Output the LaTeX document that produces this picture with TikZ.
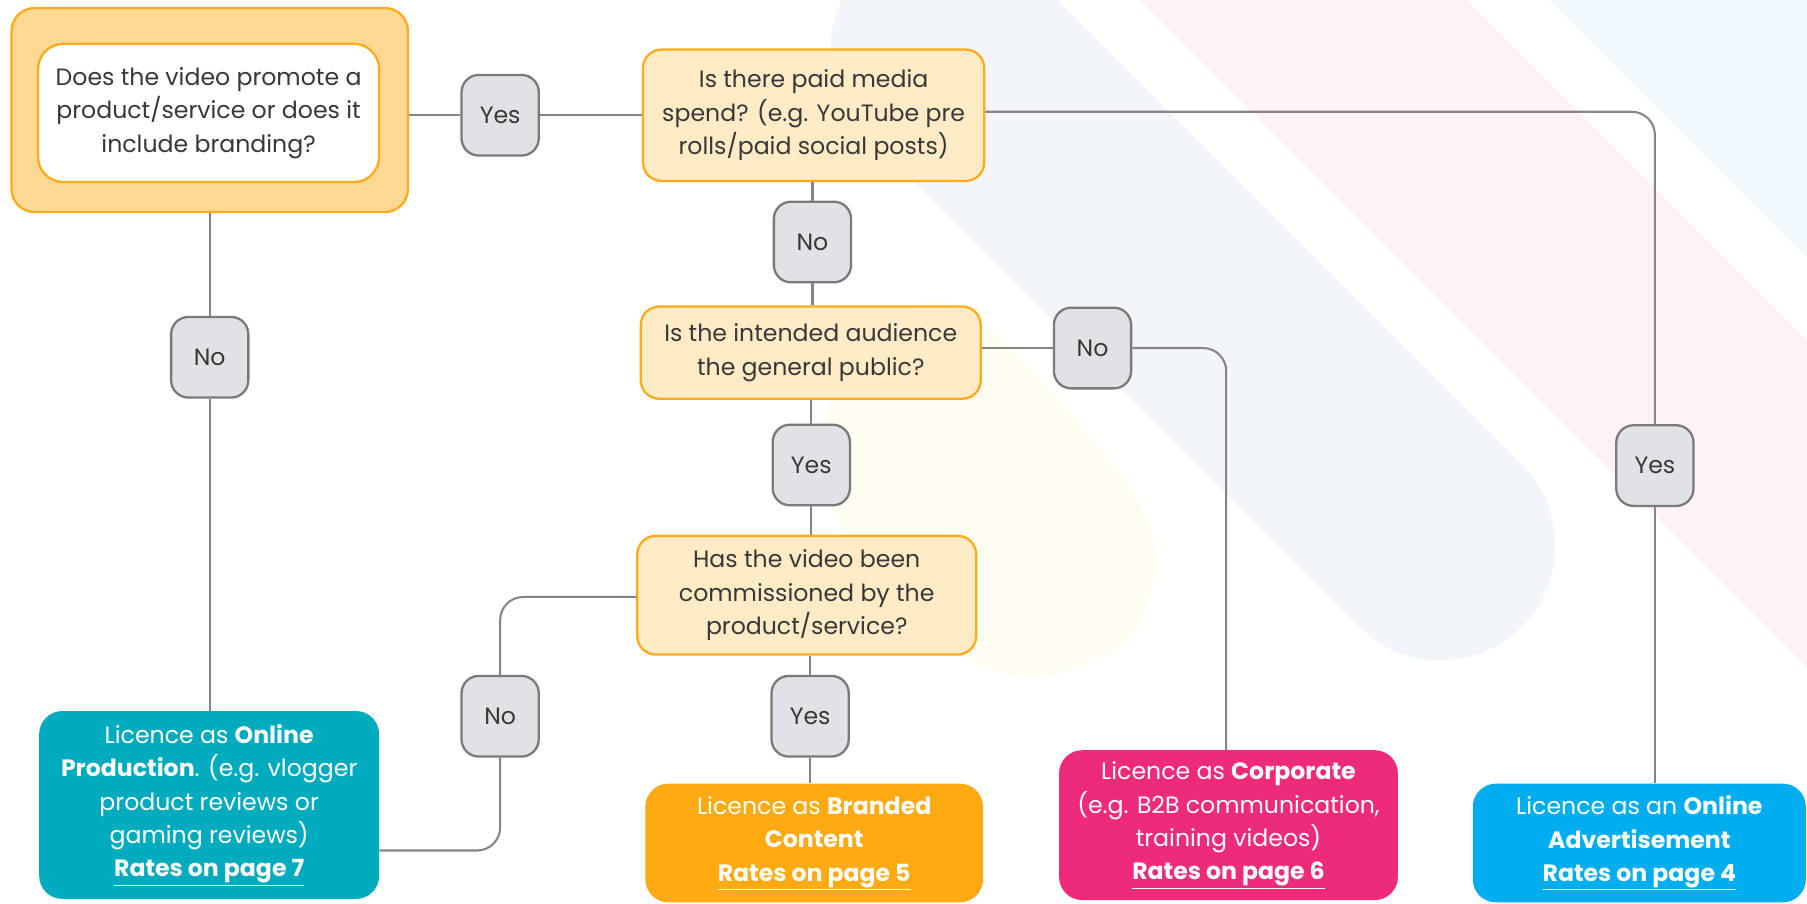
\documentclass[tikz,border=0pt]{standalone}
\usepackage{fontspec}
\setmainfont{Poppins}
\definecolor{qfill}{HTML}{FFEBC6}
\definecolor{qborder}{HTML}{FFAB1A}
\definecolor{outerfill}{HTML}{FFD993}
\definecolor{labfill}{HTML}{E1E2E6}
\definecolor{labborder}{HTML}{7A7A7A}
\definecolor{linec}{HTML}{858585}
\definecolor{txt}{HTML}{383838}
\definecolor{opfill}{HTML}{00ABBD}
\definecolor{brfill}{HTML}{FFAA12}
\definecolor{cofill}{HTML}{EE2A7B}
\definecolor{oafill}{HTML}{00AEEF}
\definecolor{greyband}{HTML}{F2F5F9}
\definecolor{pinkband}{HTML}{FEF2F6}
\definecolor{blueband}{HTML}{F1F9FE}
\definecolor{yellowband}{HTML}{FFFCF1}
\newcommand{\boxfont}{\fontsize{20.5}{29}\selectfont}
\begin{document}
\begin{tikzpicture}[x=1pt,y=-1pt,
  qbox/.style={draw=qborder, fill=qfill, line width=2pt, rounded corners=16pt,
    align=center, text=txt, font=\boxfont, inner sep=0pt},
  labbox/.style={draw=labborder, fill=labfill, line width=2pt, rounded corners=15pt,
    minimum width=67pt, minimum height=70pt, font=\boxfont, text=txt, inner sep=0pt},
  resbox/.style={rounded corners=20pt, text=white, align=center, inner sep=0pt,
    font=\boxfont},
  conn/.style={draw=linec, line width=1.8pt, rounded corners=20pt}]
\useasboundingbox (0,0) rectangle (1568,784);
\begin{scope}
\clip (0,0) rectangle (1568,784);
\fill[pinkband] (989,0) -- (1273,0) -- (1620,347) -- (1620,631) -- cycle;
\fill[blueband] (1345,0) -- (1620,0) -- (1620,275) -- cycle;
\draw[greyband, line width=199pt, line cap=round] (820,43.5) -- (1250,473.5);
\fill[yellowband] plot[smooth cycle] coordinates {(740,285) (820,262) (875,300) (935,365) (988,432) (1003,495) (975,560) (900,588) (835,570) (768,508) (722,440) (716,370)};
\end{scope}
% first question
\node[draw=qborder, fill=outerfill, line width=2pt, rounded corners=20pt,
  minimum width=344pt, minimum height=177pt, inner sep=0pt] (n1) at (182,95.5) {};
\node[draw=qborder, fill=white, line width=2pt, rounded corners=22pt,
  minimum width=296pt, minimum height=120pt, align=center, text=txt, font=\boxfont, inner sep=0pt]
  (n1in) at (181,98) {Does the video promote a\\product/service or does it\\include branding?};
\node[qbox, minimum width=296pt, minimum height=114pt] (q2) at (706,100)
  {Is there paid media\\spend? (e.g. YouTube pre\\rolls/paid social posts)};
\node[qbox, minimum width=295pt, minimum height=80pt] (q3) at (703.5,306)
  {Is the intended audience\\the general public?};
\node[qbox, minimum width=294pt, minimum height=103pt] (q4) at (700,516.5)
  {Has the video been\\commissioned by the\\product/service?};
% labels
\node[labbox] (yes1) at (434,100) {Yes};
\node[labbox] (no2) at (705,210) {No};
\node[labbox] (no3) at (948,302) {No};
\node[labbox] (yes3) at (704,403.5) {Yes};
\node[labbox] (no5) at (434,621.5) {No};
\node[labbox] (yes5) at (703,621.5) {Yes};
\node[labbox] (no1) at (182,310) {No};
\node[labbox] (yes4) at (1436,404) {Yes};
% results
\node[resbox, fill=opfill, minimum width=295pt, minimum height=163pt] (op) at (181.5,698.5)
  {Licence as \textbf{Online}\\\textbf{Production}. (e.g. vlogger\\product reviews or\\gaming reviews)\\\underline{\textbf{Rates on page 7}}};
\node[resbox, fill=brfill, minimum width=293pt, minimum height=103pt] (br) at (706.5,731.5)
  {Licence as \textbf{Branded}\\\textbf{Content}\\\underline{\textbf{Rates on page 5}}};
\node[resbox, fill=cofill, minimum width=294pt, minimum height=130pt] (co) at (1066,716)
  {Licence as \textbf{Corporate}\\(e.g. B2B communication,\\training videos)\\\underline{\textbf{Rates on page 6}}};
\node[resbox, fill=oafill, minimum width=289pt, minimum height=103pt] (oa) at (1422.5,731.5)
  {Licence as an \textbf{Online}\\\textbf{Advertisement}\\\underline{\textbf{Rates on page 4}}};
\coordinate (opin) at ([yshift=-39.5pt]op.east);
% connectors
\draw[conn] (n1.east |- yes1.west) -- (yes1.west);
\draw[conn] (yes1.east) -- (q2.west |- yes1.east);
\draw[conn] ([yshift=3pt]q2.east) -- ([yshift=3pt]q2.east -| yes4.north) -- (yes4.north);
\draw[conn] (yes4.south) -- (yes4.south |- oa.north);
\draw[conn] (q2.south -| no2.north) -- (no2.north);
\draw[conn] (no2.south) -- (no2.south |- q3.north);
\draw[conn] (q3.east |- no3.west) -- (no3.west);
\draw[conn] (no3.east) -- (no3.east -| 1064,0) -- (co.north -| 1064,0);
\draw[conn] (q3.south -| yes3.north) -- (yes3.north);
\draw[conn] (yes3.south) -- (yes3.south |- q4.north);
\draw[conn] (q4.west |- 0,518) -- (no5.north |- 0,518) -- (no5.north);
\draw[conn] (no5.south) -- (no5.south |- opin) -- (opin);
\draw[conn] (q4.south -| yes5.north) -- (yes5.north);
\draw[conn] (yes5.south) -- (yes5.south |- br.north);
\draw[conn] (n1.south -| no1.north) -- (no1.north);
\draw[conn] (no1.south) -- (no1.south |- op.north);
\end{tikzpicture}
\end{document}
